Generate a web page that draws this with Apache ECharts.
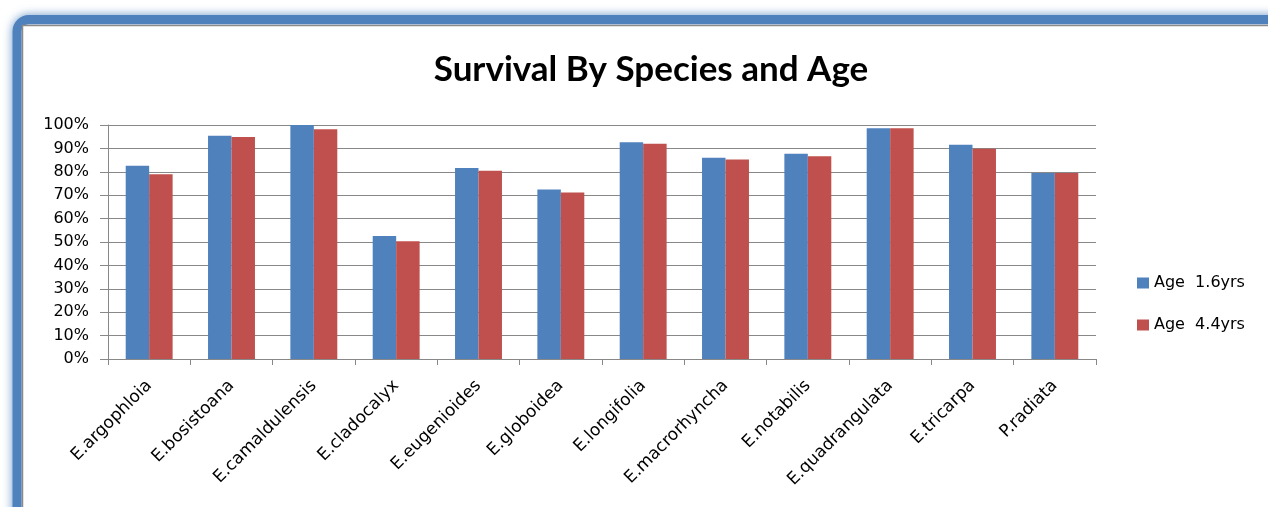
<!DOCTYPE html>
<html>
<head>
<meta charset="utf-8">
<script src="https://cdn.jsdelivr.net/npm/echarts@6/dist/echarts.min.js"></script>
<style>
  html, body { margin: 0; padding: 0; background: #ffffff; }
  #chart { width: 1268px; height: 507px; }
</style>
</head>
<body>
<div id="chart"></div>
<script>
// Species along the category axis
const species = [
  'E.argophloia', 'E.bosistoana', 'E.camaldulensis', 'E.cladocalyx',
  'E.eugenioides', 'E.globoidea', 'E.longifolia', 'E.macrorhyncha',
  'E.notabilis', 'E.quadrangulata', 'E.tricarpa', 'P.radiata'
];

// Survival fractions (%) per species at each assessment age
const age16 = [82.6, 95.4, 100.0, 52.6, 81.6, 72.4, 92.6, 86.0, 87.7, 98.6, 91.6, 79.5];
const age44 = [78.9, 94.9, 98.2, 50.3, 80.5, 71.2, 92.0, 85.3, 86.6, 98.6, 89.9, 79.5];

const seriesNames = ['Age  1.6yrs', 'Age  4.4yrs'];

const LABEL_FONT = '"DejaVu Sans", "Open Sans", sans-serif';
const TITLE_FONT = 'Lato, "Open Sans", sans-serif';
const gridColor = '#888888';

const chart = echarts.init(document.getElementById('chart'), null, { renderer: 'canvas' });

chart.setOption({
  animation: false,
  backgroundColor: '#ffffff',
  textStyle: { fontFamily: LABEL_FONT },
  title: {
    text: 'Survival By Species and Age',
    left: 646,
    textAlign: 'center',
    top: 47,
    textStyle: { fontFamily: TITLE_FONT, fontWeight: 'bold', fontSize: 35, color: '#000000' }
  },
  // framed panel with a blue glowing border
  graphic: [
    {
      type: 'rect',
      z: -20,
      shape: { x: 17, y: 19.5, width: 1300, height: 560, r: 12 },
      style: {
        fill: 'none',
        stroke: '#4F81BD',
        lineWidth: 9,
        shadowBlur: 10,
        shadowColor: 'rgba(79,129,189,0.85)'
      },
      silent: true
    },
    {
      type: 'rect',
      z: -19,
      shape: { x: 22.5, y: 25.5, width: 1300, height: 560 },
      style: { fill: '#ffffff', stroke: '#8a8a8a', lineWidth: 1.5 },
      silent: true
    }
  ],
  legend: {
    orient: 'vertical',
    left: 1132,
    top: 270,
    itemWidth: 12,
    itemHeight: 11,
    itemGap: 26,
    icon: 'rect',
    textStyle: { fontFamily: LABEL_FONT, fontSize: 16, color: '#000000' },
    data: seriesNames
  },
  grid: { left: 108, right: 172, top: 125, bottom: 148, containLabel: false },
  xAxis: {
    type: 'category',
    data: species,
    boundaryGap: true,
    axisLine: { lineStyle: { color: gridColor, width: 1 } },
    axisTick: { show: true, length: 6, alignWithLabel: false, lineStyle: { color: gridColor } },
    axisLabel: {
      rotate: 45,
      margin: 24,
      interval: 0,
      fontFamily: LABEL_FONT,
      fontSize: 17,
      color: '#000000'
    }
  },
  yAxis: {
    type: 'value',
    min: 0,
    max: 100,
    interval: 10,
    axisLine: { show: true, lineStyle: { color: gridColor, width: 1 } },
    axisTick: { show: true, length: 8, lineStyle: { color: gridColor } },
    splitLine: { show: true, lineStyle: { color: gridColor, width: 1 } },
    axisLabel: {
      margin: 19,
      fontFamily: LABEL_FONT,
      fontSize: 16,
      color: '#000000',
      formatter: v => v + '%'
    }
  },
  series: [
    {
      name: seriesNames[0],
      type: 'bar',
      data: age16,
      barGap: '0%',
      barCategoryGap: '43%',
      itemStyle: { color: '#4F81BD' }
    },
    {
      name: seriesNames[1],
      type: 'bar',
      data: age44,
      barGap: '0%',
      barCategoryGap: '43%',
      itemStyle: { color: '#C0504D' }
    }
  ]
});
</script>
</body>
</html>
